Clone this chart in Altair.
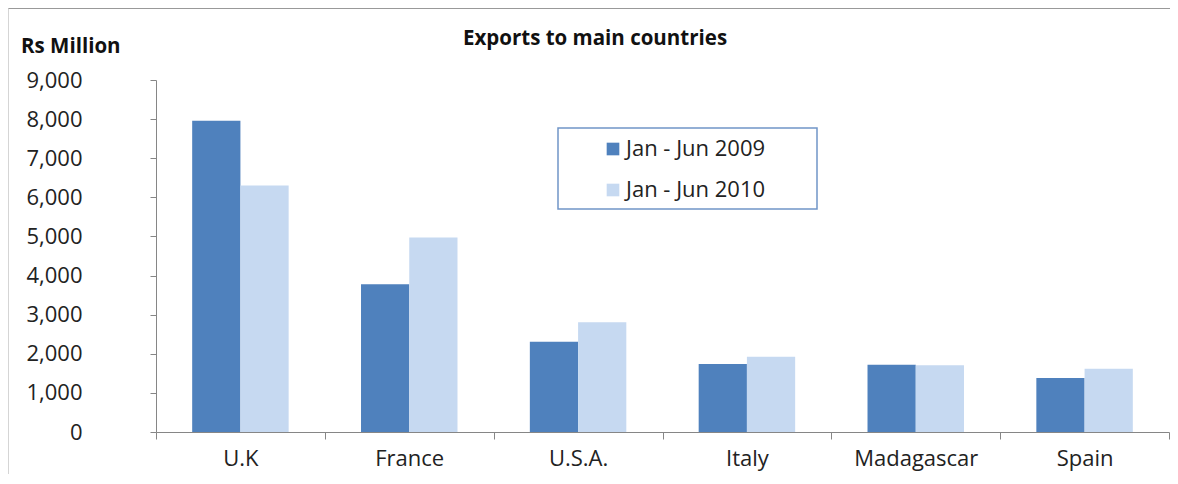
import altair as alt
import pandas as pd

countries = ["U.K", "France", "U.S.A.", "Italy", "Madagascar", "Spain"]
periods = ["Jan - Jun 2009", "Jan - Jun 2010"]
values_2009 = [7960, 3775, 2310, 1740, 1720, 1380]
values_2010 = [6300, 4970, 2805, 1925, 1705, 1620]
colors = ["#4F81BD", "#C6D9F1"]
y_ticks = [0, 1000, 2000, 3000, 4000, 5000, 6000, 7000, 8000, 9000]
chart_title = "Exports to main countries"
y_unit = "Rs Million"

rows = []
for c, a, b in zip(countries, values_2009, values_2010):
    rows.append({"country": c, "period": periods[0], "value": a})
    rows.append({"country": c, "period": periods[1], "value": b})
df = pd.DataFrame(rows)

FONT = "Open Sans"

bars = alt.Chart(df).mark_bar(strokeWidth=0).encode(
    x=alt.X(
        "country:N",
        sort=countries,
        scale=alt.Scale(paddingInner=0, paddingOuter=0),
        axis=alt.Axis(
            title=None,
            labelAngle=0,
            labelFontSize=22,
            labelFont=FONT,
            labelColor="#222222",
            labelPadding=9,
            tickSize=7,
            tickBand="extent",
            tickColor="#868686",
            domainColor="#868686",
            grid=False,
        ),
    ),
    xOffset=alt.XOffset(
        "period:N", sort=periods,
        scale=alt.Scale(paddingInner=0, paddingOuter=0.75),
    ),
    y=alt.Y(
        "value:Q",
        scale=alt.Scale(domain=[0, 9000], nice=False),
        axis=alt.Axis(
            title=None,
            values=y_ticks,
            format=",d",
            labelFontSize=22,
            labelFont=FONT,
            labelColor="#222222",
            labelPadding=68,
            tickSize=6,
            tickColor="#868686",
            domainColor="#868686",
            grid=False,
        ),
    ),
    color=alt.Color(
        "period:N",
        sort=periods,
        scale=alt.Scale(domain=periods, range=colors),
        legend=alt.Legend(
            title=None,
            orient="none",
            legendX=402,
            legendY=48,
            direction="vertical",
            labelFont=FONT,
            labelFontSize=22,
            labelColor="#222222",
            labelOffset=2,
            symbolType="square",
            symbolSize=160,
            symbolStrokeWidth=0,
            symbolOffset=34,
            rowPadding=19,
            padding=10,
        ),
    ),
)

box_df = pd.DataFrame({"k": [0]})
legend_box = alt.Chart(box_df).mark_rect(
    fill="white", fillOpacity=0, stroke="#7095C8", strokeWidth=1.5
).encode(x=alt.value(402), x2=alt.value(661), y=alt.value(48), y2=alt.value(129))

title_df = pd.DataFrame({"t": [chart_title]})
title = alt.Chart(title_df).mark_text(
    font=FONT, fontSize=20.5, fontWeight="bold", color="#111111",
    align="center", baseline="alphabetic"
).encode(x=alt.value(439), y=alt.value(-35), text="t:N")

unit_df = pd.DataFrame({"t": [y_unit]})
unit = alt.Chart(unit_df).mark_text(
    font=FONT, fontSize=20.5, fontWeight="bold", color="#111111",
    align="left", baseline="alphabetic"
).encode(x=alt.value(-135), y=alt.value(-27), text="t:N")

frame_df = pd.DataFrame({"k": [0]})
top_line = alt.Chart(frame_df).mark_rule(color="#999999", strokeWidth=1).encode(
    x=alt.value(-147.5), x2=alt.value(1014), y=alt.value(-71.5)
)
left_line = alt.Chart(frame_df).mark_rule(color="#AAAAAA", strokeWidth=1, strokeDash=[1, 1]).encode(
    x=alt.value(-147.5), y=alt.value(-71.5), y2=alt.value(394)
)

chart = alt.layer(legend_box, bars, title, unit, top_line, left_line).properties(
    width=1013,
    height=352,
    padding={"left": 148, "top": 72, "right": 1, "bottom": 42},
    autosize=alt.AutoSizeParams(type="none"),
    background="white",
).configure_view(strokeWidth=0)

chart.save("out.html", embed_options={"renderer": "svg", "actions": False})
